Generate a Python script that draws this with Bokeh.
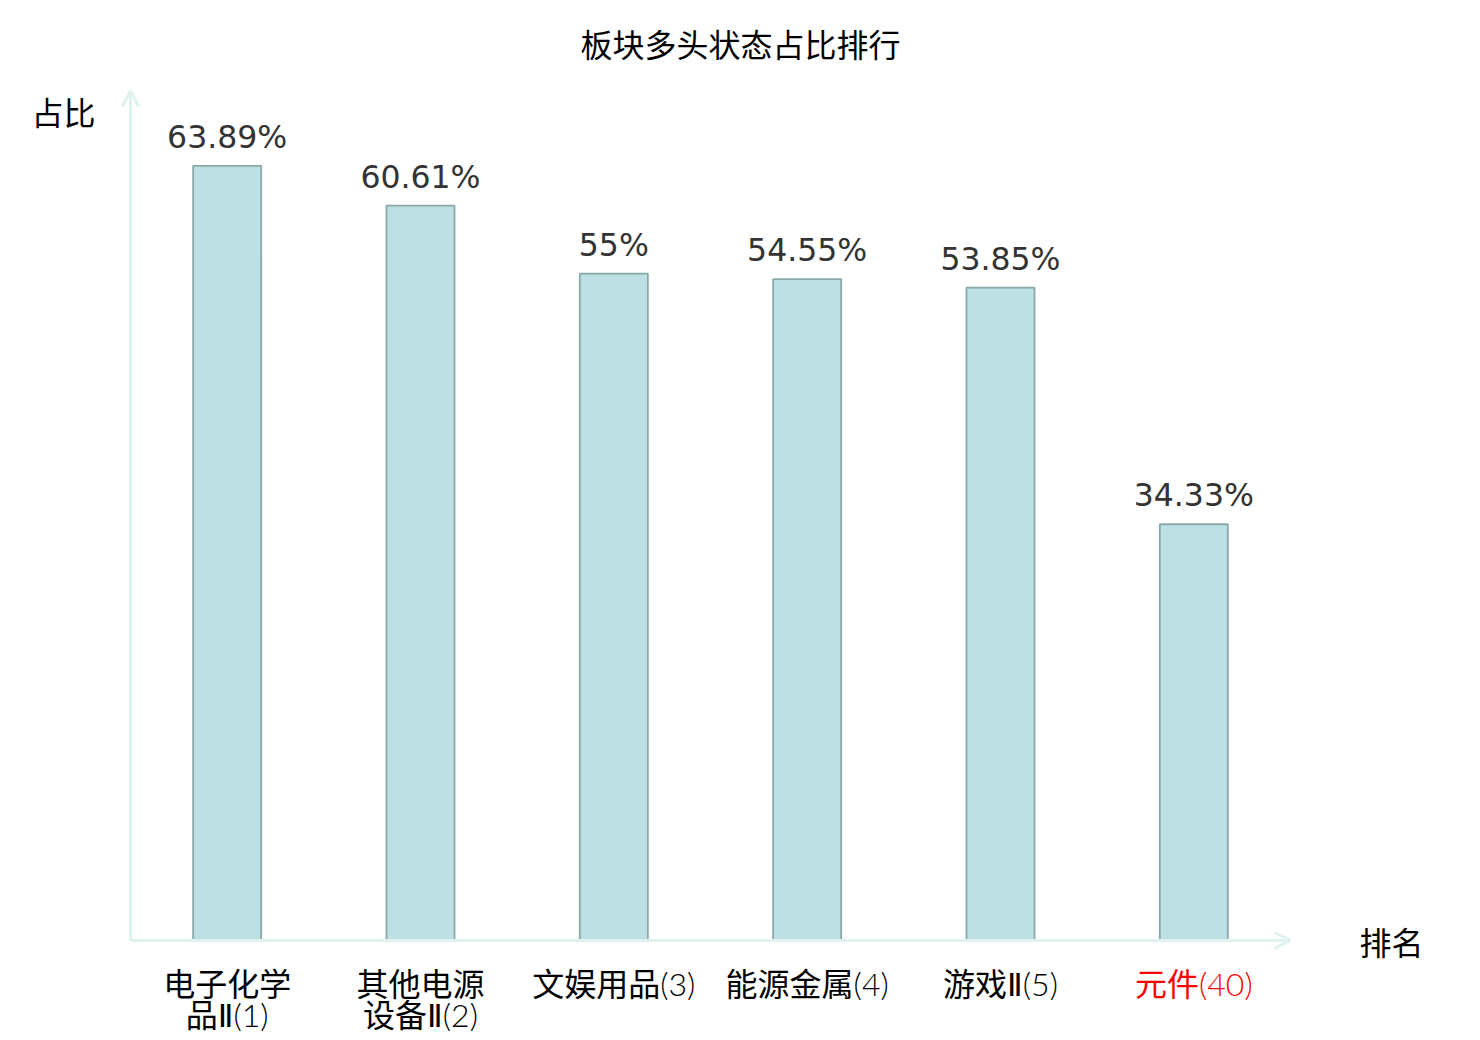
from bokeh.plotting import figure
from bokeh.models import ColumnDataSource, Range1d, Arrow, OpenHead, Label
from bokeh.core.properties import value
from bokeh.embed import file_html
from bokeh.resources import INLINE

# ---- data ----
categories = ["电子化学\n品Ⅱ(1)", "其他电源\n设备Ⅱ(2)", "文娱用品(3)", "能源金属(4)", "游戏Ⅱ(5)", "元件(40)"]
values = [63.89, 60.61, 55.0, 54.55, 53.85, 34.33]
value_labels = ["63.89%", "60.61%", "55%", "54.55%", "53.85%", "34.33%"]
label_colors = ["#000000", "#000000", "#000000", "#000000", "#000000", "#ff0000"]
title_text = "板块多头状态占比排行"
y_name = "占比"
x_name = "排名"

W, H = 1472, 1040
px_x = 193.33   # px per category
px_y = 12.125   # px per percent
x0_px = 130     # canvas px of x=0
y0_px = H - 940 # canvas px (from bottom) of y=0

p = figure(width=W, height=H, output_backend="svg", toolbar_location=None,
           x_range=Range1d(-x0_px / px_x, (W - x0_px) / px_x),
           y_range=Range1d(-y0_px / px_y, (H - y0_px) / px_y),
           min_border=0, background_fill_color="white", border_fill_color="white")
p.axis.visible = False
p.grid.visible = False
p.outline_line_color = None

n = len(categories)
xs = [i + 0.5 for i in range(n)]
src = ColumnDataSource(dict(x=xs, top=values, lab=value_labels))

p.vbar(x="x", top="top", bottom=0, width=0.352, source=src,
       fill_color="#bce0e3", line_color="#8aa8a9", line_width=1.8)

p.text(x="x", y="top", text="lab", source=src, text_align="center", text_baseline="middle",
       y_offset=-29, text_font=value("DejaVu Sans"), text_font_size="31.5px", text_color="#333333")

# x labels (two lines for wrapped ones)
line1, line2, l1x, l2x, c1, c2 = [], [], [], [], [], []
for i, c in enumerate(categories):
    parts = c.split("\n")
    line1.append(parts[0]); l1x.append(xs[i]); c1.append(label_colors[i])
    if len(parts) > 1:
        line2.append(parts[1]); l2x.append(xs[i]); c2.append(label_colors[i])
s1 = ColumnDataSource(dict(x=l1x, y=[0] * len(l1x), t=line1, c=c1))
s2 = ColumnDataSource(dict(x=l2x, y=[0] * len(l2x), t=line2, c=c2))
lab_font = value("'Lato Light', 'DejaVu Sans', 'Noto Sans CJK SC'")
p.text(x="x", y="y", text="t", text_color="c", source=s1, text_align="center", text_baseline="middle",
       y_offset=43, text_font=lab_font, text_font_size="32px", text_line_height=1.0)
p.text(x="x", y="y", text="t", text_color="c", source=s2, text_align="center", text_baseline="middle",
       y_offset=74, text_font=lab_font, text_font_size="32px", text_line_height=1.0)

# axes with arrows
axis_col = "#dff2ef"
p.add_layout(Arrow(x_start=0, y_start=0, x_end=6.0, y_end=0, line_color=axis_col, line_width=3,
                   end=OpenHead(size=16, line_color=axis_col, line_width=3)))
p.add_layout(Arrow(x_start=0, y_start=0, x_end=0, y_end=70.1, line_color=axis_col, line_width=3,
                   end=OpenHead(size=16, line_color=axis_col, line_width=3)))

# titles / axis names
p.add_layout(Label(x=3.155, y=74.0, text=title_text, text_align="center", text_baseline="middle",
                   text_font="Noto Sans CJK SC", text_font_size="32px", text_color="#000000"))
p.add_layout(Label(x=-0.347, y=68.45, text=y_name, text_align="center", text_baseline="middle",
                   text_font="Noto Sans CJK SC", text_font_size="32px", text_color="#000000"))
p.add_layout(Label(x=6.523, y=0.0, text=x_name, text_align="center", text_baseline="middle",
                   text_font="Noto Sans CJK SC", text_font_size="32px", text_color="#000000"))

open("out.html", "w").write(file_html(p, INLINE))
